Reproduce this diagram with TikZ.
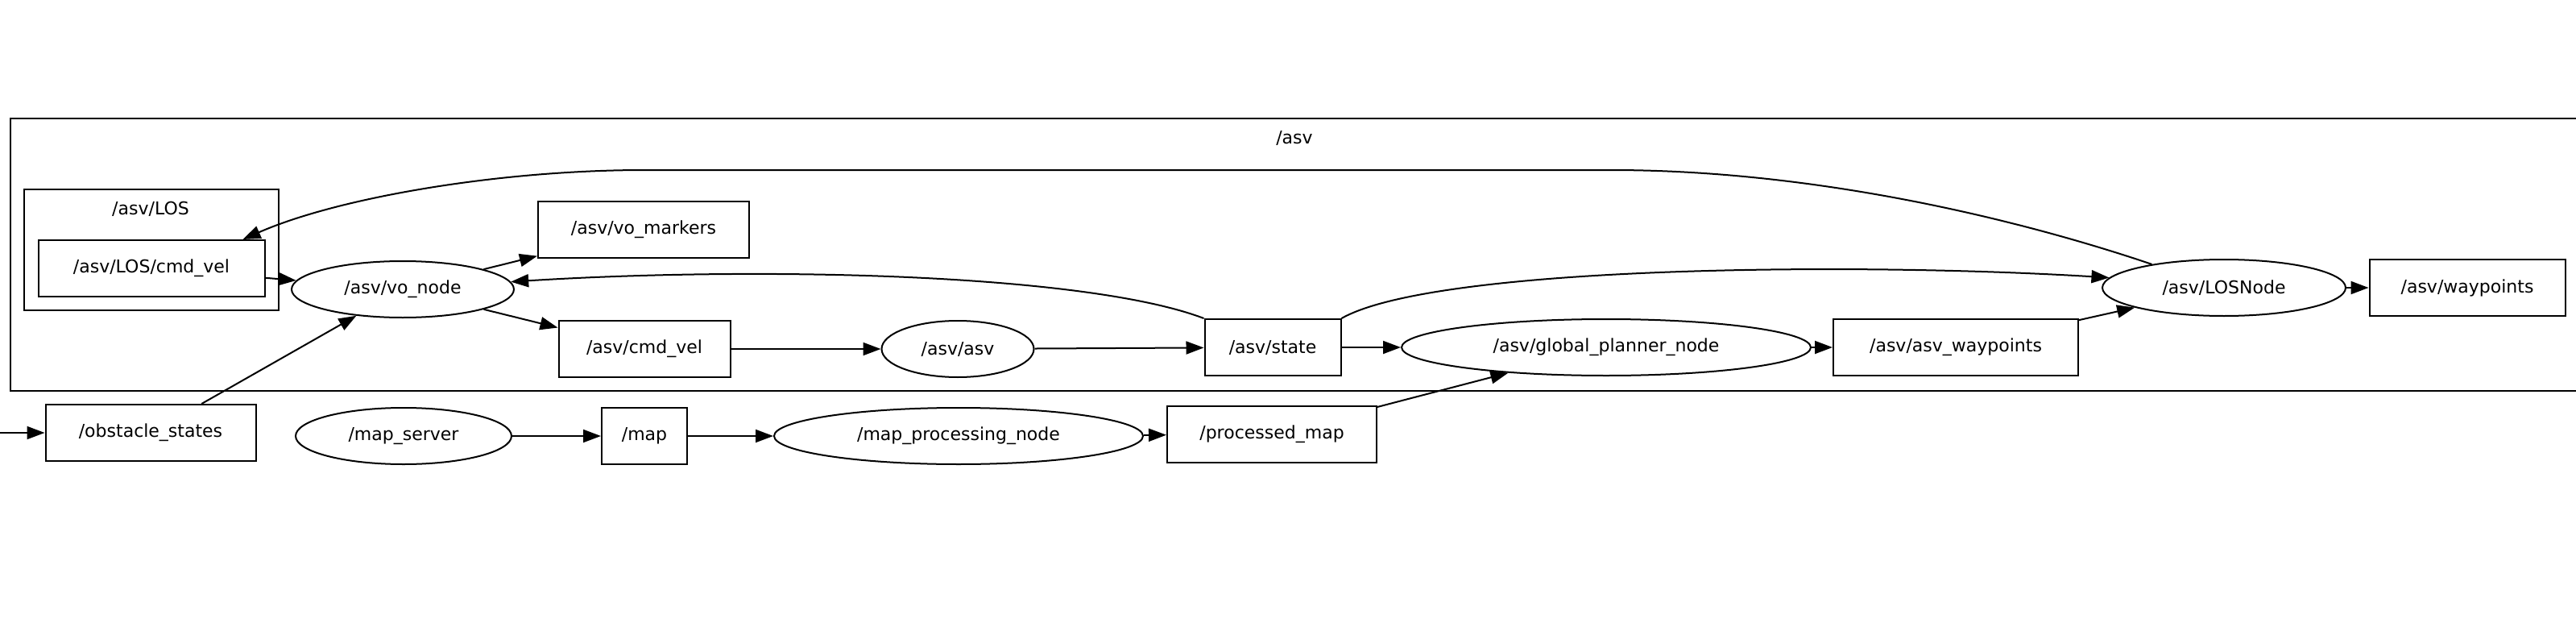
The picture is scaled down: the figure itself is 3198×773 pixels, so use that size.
\documentclass[tikz,border=0pt]{standalone}
\usepackage{fontspec}
\setmainfont{DejaVu Sans}
\usetikzlibrary{arrows.meta,shapes.geometric}
\begin{document}
\begin{tikzpicture}[x=1pt,y=-1pt,
  every node/.style={font=\fontsize{22}{26}\selectfont},
  topic/.style={draw,line width=2pt,rectangle,minimum height=70pt,inner sep=0pt},
  rosnode/.style={draw,line width=2pt,ellipse,minimum height=70pt,inner sep=0pt},
  cluster/.style={draw,line width=2pt},
  conn/.style={line width=2pt,-{Triangle[length=22pt,width=16pt]}}]
\useasboundingbox (0,0) rectangle (3198,773);
\clip (0,0) rectangle (3198,773);
% clusters
\draw [cluster] (13,147) rectangle (3210,485);
\node (asvlbl) at (1607,172) {/asv};
\draw [cluster] (30,235) rectangle (346,385);
\node (loslbl) at (187,259) {/asv/LOS};
% topics and nodes
\node [topic,minimum width=281pt] (loscmd) at (188,333) {/asv/LOS/cmd\_vel};
\node [rosnode,minimum width=276pt] (vo) at (500,359) {/asv/vo\_node};
\node [topic,minimum width=262pt] (vomark) at (799,285) {/asv/vo\_markers};
\node [topic,minimum width=213pt] (cmdvel) at (800,433) {/asv/cmd\_vel};
\node [rosnode,minimum width=189pt] (asv) at (1189,433) {/asv/asv};
\node [topic,minimum width=169pt] (state) at (1580,431) {/asv/state};
\node [rosnode,minimum width=508pt] (gplan) at (1994,431) {/asv/global\_planner\_node};
\node [topic,minimum width=304pt] (asvwp) at (2428,431) {/asv/asv\_waypoints};
\node [rosnode,minimum width=302pt] (losnode) at (2761,357) {/asv/LOSNode};
\node [topic,minimum width=243pt] (wayp) at (3063,357) {/asv/waypoints};
\node [topic,minimum width=261pt] (obst) at (187,537) {/obstacle\_states};
\node [rosnode,minimum width=268pt] (mapsrv) at (501,541) {/map\_server};
\node [topic,minimum width=106pt] (map) at (800,541) {/map};
\node [rosnode,minimum width=458pt] (mapproc) at (1190,541) {/map\_processing\_node};
\node [topic,minimum width=260pt] (procmap) at (1579,539) {/processed\_map};
\coordinate (ext) at (0,537);
% connectors
\draw [conn] (ext) -- (obst);
\draw [conn] (obst) -- (vo);
\draw [conn] (loscmd) -- (vo);
\draw [conn] (vo) -- (vomark);
\draw [conn] (vo) -- (cmdvel);
\draw [conn] (cmdvel) -- (asv);
\draw [conn] (asv) -- (state);
\draw [conn] (state) -- (gplan);
\draw [conn] (gplan) -- (asvwp);
\draw [conn] (asvwp) -- (losnode);
\draw [conn] (losnode) -- (wayp);
\draw [conn] (mapsrv) -- (map);
\draw [conn] (map) -- (mapproc);
\draw [conn] (mapproc) -- (procmap);
\draw [conn] (procmap) -- (gplan);
\draw [conn] (state.north west) .. controls (1350,340) and (950,330) .. (vo.4);
\draw [conn] (state.north east) .. controls (1780,330) and (2300,325) .. (losnode.175);
\draw [conn] (losnode.162) .. controls (2500,270) and (2250,211) .. (2000,211) -- (800,211)
  .. controls (620,211) and (420,245) .. ([xshift=-28pt]loscmd.north east);
\end{tikzpicture}
\end{document}
